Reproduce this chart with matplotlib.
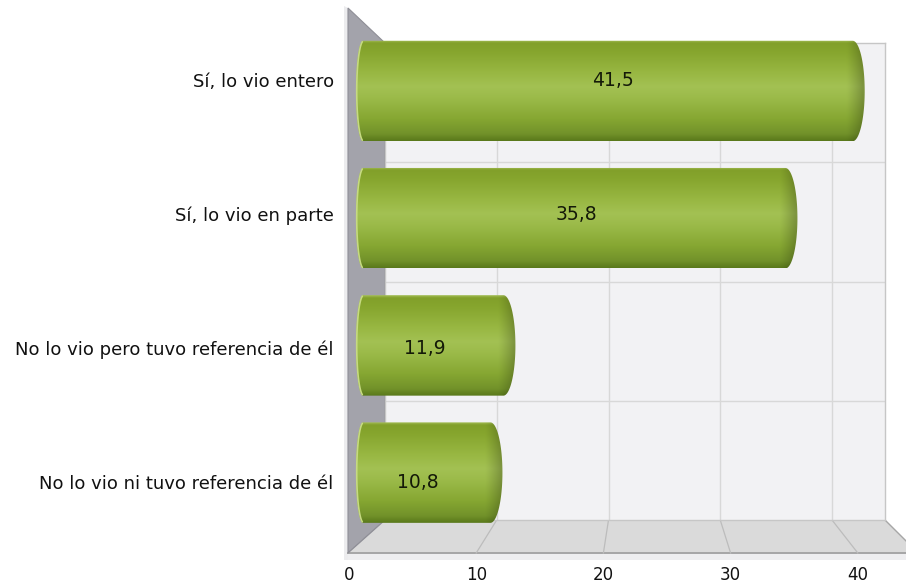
import numpy as np
import matplotlib
matplotlib.use("Agg")
import matplotlib.pyplot as plt
from matplotlib.path import Path
from matplotlib.patches import PathPatch, Polygon
from matplotlib.colors import to_rgb

# ---------------- data ----------------
categories = ["Sí, lo vio entero", "Sí, lo vio en parte",
              "No lo vio pero tuvo referencia de él",
              "No lo vio ni tuvo referencia de él"]
values = [41.5, 35.8, 11.9, 10.8]
value_labels = ["41,5", "35,8", "11,9", "10,8"]
xticks = [0, 10, 20, 30, 40]

W, H = 906, 585
fig = plt.figure(figsize=(W / 100, H / 100), dpi=100)
fig.patch.set_facecolor("white")


def rect(l, t, r, b):
    return [l / W, 1 - b / H, (r - l) / W, (b - t) / H]


# ---------------- background (pixel coords) ----------------
bg = fig.add_axes([0, 0, 1, 1])
bg.set_xlim(0, W)
bg.set_ylim(H, 0)
bg.axis("off")

FRONT_X0, FRONT_S = 349, 12.72
BACK_X0, BACK_S = 385, 11.175
BACK_T, BACK_B = 43, 520
FLOOR_F = 553
WALL_L = 348
back_right = 885
n_depth = (back_right - BACK_X0) / BACK_S
front_right = FRONT_X0 + FRONT_S * n_depth

# light strip behind wall / under floor
bg.add_patch(Polygon([(WALL_L - 4, 6), (WALL_L, 8), (WALL_L, FLOOR_F + 7), (WALL_L - 4, FLOOR_F + 7)],
                     closed=True, fc="#ececee", ec="none"))
# left wall
bg.add_patch(Polygon([(WALL_L, 8), (BACK_X0, BACK_T), (BACK_X0, BACK_B), (WALL_L, FLOOR_F)],
                     closed=True, fc="#a3a3ab", ec="#8e8e96", lw=0.8))
# floor
bg.add_patch(Polygon([(WALL_L, FLOOR_F), (BACK_X0, BACK_B), (back_right, BACK_B), (front_right, FLOOR_F)],
                     closed=True, fc="#dadada", ec="none"))
bg.add_patch(Polygon([(WALL_L, FLOOR_F), (front_right, FLOOR_F), (front_right, FLOOR_F + 7), (WALL_L, FLOOR_F + 7)],
                     closed=True, fc="#eeeef0", ec="none"))
bg.plot([WALL_L, front_right], [FLOOR_F, FLOOR_F], color="#a6a6a6", lw=1.4)
bg.plot([BACK_X0, back_right], [BACK_B, BACK_B], color="#b8b8b8", lw=1.2)
bg.plot([back_right, front_right], [BACK_B, FLOOR_F], color="#a6a6a6", lw=1.0)
bg.plot([WALL_L, BACK_X0], [FLOOR_F, BACK_B], color="#8e8e96", lw=0.8)
# floor grid lines, from the x-scale ticks
for k in xticks[1:]:
    fx = FRONT_X0 + FRONT_S * k
    bx = BACK_X0 + BACK_S * k
    bg.plot([fx, bx], [FLOOR_F, BACK_B], color="#bcbcbc", lw=0.9)

# ---------------- back plane ----------------
back = fig.add_axes(rect(BACK_X0, BACK_T, back_right, BACK_B))
back.set_xlim(0, n_depth)
back.set_ylim(3.5, -0.5)
back.set_facecolor("#f2f2f4")
back.set_xticks(xticks[1:])
back.set_yticks([0.5, 1.5, 2.5])
back.grid(True, color="#d8d8d8", lw=1)
back.tick_params(length=0, labelbottom=False, labelleft=False)
for s in back.spines.values():
    s.set_color("#c6c6c6")
    s.set_linewidth(1.0)

# ---------------- bars (mid depth) ----------------
MID_X0, MID_S = 363, 11.8
MID_LEFT = 330
pitch = 127.2
c0 = 91
mid = fig.add_axes(rect(MID_LEFT, c0 - pitch / 2, W, c0 + 3.5 * pitch))
mid.patch.set_alpha(0)
mid.axis("off")
ypos = np.arange(len(categories))
bars = mid.barh(ypos, values, height=0.79, color="none", edgecolor="none")

prof_pos = [0.0, 0.025, 0.12, 0.32, 0.46, 0.58, 0.78, 0.93, 1.0]
prof_col = ["#a3bd55", "#82a02a", "#87a62e", "#98b742", "#a3c153", "#9bba49",
            "#86a732", "#72922a", "#5a791b"]
prof_rgb = np.array([to_rgb(c) for c in prof_col])

rxl = 7 / MID_S
rxr = 12 / MID_S
for p in bars.patches:
    x0, y0, w, h = p.get_x(), p.get_y(), p.get_width(), p.get_height()
    yc = y0 + h / 2
    t1 = np.linspace(-np.pi / 2, np.pi / 2, 60)
    t2 = np.linspace(np.pi / 2, 3 * np.pi / 2, 60)
    verts = np.vstack([
        np.column_stack([x0 + w + rxr * np.cos(t1), yc + h / 2 * np.sin(t1)]),
        np.column_stack([x0 + rxl * np.cos(t2), yc + h / 2 * np.sin(t2)]),
        [[x0 + w, yc - h / 2]],
    ])
    codes = [Path.MOVETO] + [Path.LINETO] * (len(verts) - 2) + [Path.CLOSEPOLY]
    clip = PathPatch(Path(verts, codes), fc="none", ec="none", transform=mid.transData)
    mid.add_patch(clip)

    ny, nx = 120, 300
    fy = np.linspace(0, 1, ny)
    col = np.column_stack([np.interp(fy, prof_pos, prof_rgb[:, i]) for i in range(3)])
    xs = np.linspace(x0 - rxl, x0 + w + rxr, nx)
    shade = np.ones(nx)
    start = x0 + w - 0.5
    m = xs > start
    shade[m] = 1 - 0.22 * np.clip((xs[m] - start) / (x0 + w + rxr * 0.85 - start), 0, 1) ** 1.2
    img = col[:, None, :] * shade[None, :, None]
    im = mid.imshow(np.clip(img, 0, 1), extent=(x0 - rxl, x0 + w + rxr, y0 + h, y0),
                    origin="upper", aspect="auto", interpolation="bilinear", zorder=2)
    im.set_clip_path(clip)
    # visible left end face rim
    tl = np.linspace(np.pi / 2 + 0.2, 3 * np.pi / 2 - 0.2, 40)
    mid.plot(x0 + rxl * np.cos(tl) + 0.06, yc + h / 2 * np.sin(tl), color="#c6da82",
             lw=1.2, zorder=3, solid_capstyle="round")

mid.set_xlim(-(MID_X0 - MID_LEFT) / MID_S, (W - MID_X0) / MID_S)
mid.set_ylim(3.5, -0.5)

# ---------------- front plane: labels ----------------
fpitch = 134
f0 = 80
front = fig.add_axes(rect(FRONT_X0, f0 - fpitch / 2, W, f0 + 3.5 * fpitch))
front.patch.set_alpha(0)
front.set_xlim(0, (W - FRONT_X0) / FRONT_S)
front.set_ylim(3.5, -0.5)
front.set_xticks(xticks)
front.set_xticklabels([str(v) for v in xticks], fontsize=12, color="#111111")
front.set_yticks(ypos)
front.set_yticklabels(categories, fontsize=13, color="#111111")
front.tick_params(axis="x", length=0, pad=12)
front.tick_params(axis="y", length=0, pad=11)
for s in front.spines.values():
    s.set_visible(False)
for i, (v, lab) in enumerate(zip(values, value_labels)):
    front.text(v / 2, i, lab, ha="center", va="center", fontsize=13.5, color="#141a08", zorder=5)

fig.savefig("out.png", dpi=100, facecolor="white")
